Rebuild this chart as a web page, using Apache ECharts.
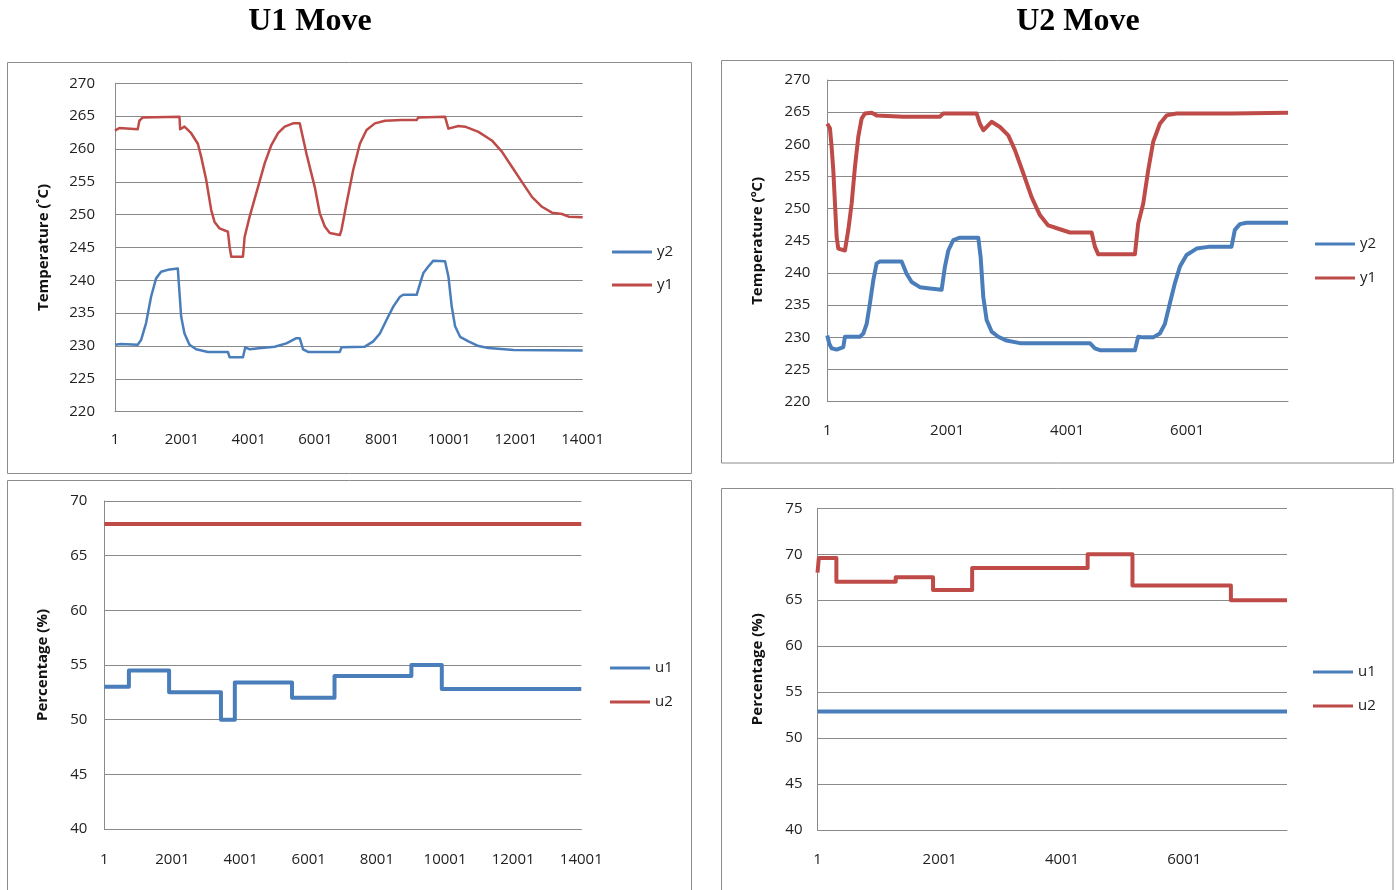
<!DOCTYPE html>
<html>
<head>
<meta charset="utf-8">
<title>U1 / U2 Move</title>
<script src="https://cdn.jsdelivr.net/npm/echarts@6/dist/echarts.min.js"></script>
<style>
  html, body { margin: 0; padding: 0; background: #ffffff; }
  #chart { width: 1396px; height: 890px; }
</style>
</head>
<body>
<div id="chart"></div>
<script>
// ---- U1 Move: temperatures ----
const y1U1Samples = [0,130,680,730,830,1930,1950,2080,2280,2480,2580,2730,2880,2980,3130,3380,3430,3480,3830,3880,4030,4280,4480,4680,4880,5080,5330,5530,5730,5980,6130,6280,6430,6730,6780,6930,7130,7330,7530,7780,8080,8580,9030,9080,9880,9980,10280,10480,10880,11280,11580,11880,12180,12480,12780,13080,13380,13580,14000];
const y1U1Values = [262.8,263.2,263.0,264.3,264.8,264.9,263.0,263.4,262.4,260.8,258.8,255.3,250.7,248.9,247.9,247.4,245.1,243.6,243.6,246.6,249.7,254.2,257.8,260.6,262.4,263.4,263.9,263.9,259.3,254.2,250.2,248.2,247.2,246.9,247.7,251.7,256.8,260.8,262.9,263.9,264.3,264.4,264.4,264.8,264.9,263.1,263.5,263.4,262.6,261.3,259.6,257.3,255.0,252.7,251.2,250.3,250.1,249.7,249.6];

const y2U1Samples = [0,180,680,780,930,1080,1230,1380,1580,1880,1930,1980,2080,2230,2430,2780,3380,3430,3830,3900,4030,4380,4780,5130,5430,5530,5630,5780,6730,6780,7480,7730,7930,8130,8330,8530,8630,9030,9130,9230,9380,9530,9880,9980,10080,10180,10330,10580,10880,11180,11930,11980,14000];
const y2U1Values = [230.2,230.3,230.2,230.9,233.5,237.5,240.3,241.3,241.6,241.8,241.6,234.5,231.9,230.2,229.5,229.1,229.1,228.3,228.3,229.8,229.5,229.7,229.9,230.4,231.2,231.2,229.5,229.1,229.1,229.8,229.9,230.7,231.9,234.0,236.0,237.5,237.8,237.8,239.5,241.1,242.1,243.0,242.9,240.6,236.0,233.0,231.4,230.7,230.0,229.7,229.4,229.3,229.3];

// ---- U2 Move: temperatures ----
const y1U2Samples = [0,44,72,100,128,156,183,294,350,406,461,517,572,628,739,822,1267,1878,1933,2489,2544,2600,2656,2739,2878,3017,3128,3267,3406,3544,3683,3878,4044,4406,4461,4517,5128,5183,5267,5350,5433,5544,5656,5822,6739,6767,7680];
const y1U2Values = [263.2,262.5,259.6,256.0,250.8,245.6,243.8,243.5,246.7,250.8,256.5,261.2,264.0,264.8,264.9,264.5,264.3,264.3,264.8,264.8,263.2,262.2,262.7,263.5,262.7,261.4,259.1,255.5,251.8,249.0,247.4,246.8,246.3,246.3,244.1,242.9,242.9,247.7,250.8,256.0,260.4,263.2,264.5,264.8,264.8,265.0,264.9];

const y2U2Samples = [0,33,72,156,267,294,544,600,656,711,767,822,878,1239,1322,1406,1544,1711,1906,1961,2017,2100,2211,2517,2556,2600,2656,2739,2850,2989,3211,4378,4461,4544,5128,5183,5211,5267,5433,5544,5628,5711,5794,5878,5989,6156,6378,6739,6794,6878,6989,7680];
const y2U2Values = [230.3,229.0,228.3,228.1,228.5,230.1,230.1,230.6,232.1,235.3,238.9,241.5,241.8,241.8,239.9,238.6,237.8,237.6,237.4,241.0,243.5,245.1,245.5,245.5,242.5,236.3,232.7,230.9,230.1,229.5,229.1,229.1,228.3,228.0,228.0,230.1,230.3,230.0,230.0,230.6,232.1,235.3,238.4,241.0,242.8,243.8,244.1,244.1,246.7,247.6,247.8,247.8];

// ---- U1 Move: manipulated inputs (step levels start at each sample) ----
const u1U1Samples = [0,722,1902,3424,3831,5510,6757,9013,9906,14000];
const u1U1Values = [53,54.5,52.5,50,53.4,52,54,55,52.8,52.8];
const u2U1Samples = [0,14000];
const u2U1Values = [67.9,67.9];

// ---- U2 Move: manipulated inputs ----
const u1U2Samples = [0,7680];
const u1U2Values = [52.9,52.9];
const u2U2Samples = [0,22,309,1279,1890,2530,4419,5152,6762,7680];
const u2U2Values = [68,69.6,67,67.5,66.1,68.5,70,66.6,65,65];

// Axis extents and tick labels
const sampleMaxU1 = 14000;
const sampleMaxU2 = 7680;
const sampleTickStep = 2000;
const tempRange = [220, 270];
const pctRangeU1 = [40, 70];
const pctRangeU2 = [40, 75];
const titles = ['U1 Move', 'U2 Move'];

const BLUE = '#4a7ebb';
const RED = '#be4b48';
const GRID_GRAY = '#8a8a8a';
const LABEL_FONT = '"Open Sans", "Noto Sans", sans-serif';

function pairs(xs, ys) { return xs.map((x, i) => [x, ys[i]]); }

function xAxis(gridIndex, max, margin) {
  return {
    type: 'value', gridIndex, min: 0, max, interval: sampleTickStep,
    axisLine: { show: true, lineStyle: { color: GRID_GRAY, width: 1 } },
    axisTick: { show: false },
    splitLine: { show: false },
    axisLabel: {
      margin, color: '#222', fontSize: 15, fontFamily: LABEL_FONT,
      formatter: v => String(v + 1),
      showMaxLabel: max % sampleTickStep === 0
    }
  };
}

function yAxis(gridIndex, range, name, nameGap, margin) {
  return {
    type: 'value', gridIndex, min: range[0], max: range[1], interval: 5,
    name, nameLocation: 'middle', nameGap, nameRotate: 90,
    nameTextStyle: { fontSize: 15, fontWeight: 'bold', color: '#111', fontFamily: LABEL_FONT },
    axisLine: { show: true, lineStyle: { color: GRID_GRAY, width: 1 } },
    axisTick: { show: false },
    splitLine: { show: true, lineStyle: { color: GRID_GRAY, width: 1 } },
    axisLabel: { margin, color: '#222', fontSize: 15, fontFamily: LABEL_FONT }
  };
}

function lineSeries(name, idx, xs, ys, color, width, step) {
  return {
    name, type: 'line', xAxisIndex: idx, yAxisIndex: idx,
    data: pairs(xs, ys), step: step ? 'end' : false,
    showSymbol: false, symbol: 'none', silent: true, animation: false,
    lineStyle: { color, width, join: 'round' }, itemStyle: { color }
  };
}

function legend(names, left, top, gap) {
  return {
    orient: 'vertical', left, top, padding: 0, itemGap: gap,
    icon: 'rect', itemWidth: 40, itemHeight: 3,
    data: names,
    textStyle: { fontSize: 15, color: '#222', fontFamily: LABEL_FONT, lineHeight: 16 },
    selectedMode: false
  };
}

function frame(x, y, w, h) {
  return { type: 'rect', shape: { x, y, width: w, height: h }, silent: true, z: -1,
           style: { fill: null, stroke: '#8c8c8c', lineWidth: 1 } };
}

const chart = echarts.init(document.getElementById('chart'), null, { renderer: 'canvas' });

chart.setOption({
  backgroundColor: '#ffffff',
  animation: false,
  graphic: [
    frame(7.5, 62.5, 684, 411),
    frame(721.5, 60.5, 672, 402.5),
    frame(7.5, 480.5, 684, 420),
    frame(721.5, 488.5, 671.5, 420),
    { type: 'text', x: 310, y: 22, silent: true,
      style: { text: titles[0], font: 'bold 32px "Liberation Serif", "Times New Roman", serif', fill: '#000', align: 'center', verticalAlign: 'middle' } },
    { type: 'text', x: 1078, y: 22, silent: true,
      style: { text: titles[1], font: 'bold 32px "Liberation Serif", "Times New Roman", serif', fill: '#000', align: 'center', verticalAlign: 'middle' } }
  ],
  grid: [
    { left: 115, top: 83.3, width: 467.7, height: 328.4, outerBoundsMode: 'none', containLabel: false },
    { left: 827.3, top: 80, width: 460.7, height: 321.7, outerBoundsMode: 'none', containLabel: false },
    { left: 104.3, top: 501, width: 477, height: 328, outerBoundsMode: 'none', containLabel: false },
    { left: 817.5, top: 508.3, width: 469.5, height: 321.7, outerBoundsMode: 'none', containLabel: false }
  ],
  xAxis: [
    xAxis(0, sampleMaxU1, 21),
    xAxis(1, sampleMaxU2, 22),
    xAxis(2, sampleMaxU1, 23),
    xAxis(3, sampleMaxU2, 22)
  ],
  yAxis: [
    yAxis(0, tempRange, 'Temperature (\u02DAC)', 64, 20),
    yAxis(1, tempRange, 'Temperature (\u00BAC)', 62, 17),
    yAxis(2, pctRangeU1, 'Percentage (%)', 54, 17),
    yAxis(3, pctRangeU2, 'Percentage (%)', 52, 15)
  ],
  legend: [
    legend(['y2', 'y1'].map(n => ({ name: n })), 612, 244, 17),
    legend(['y2 ', 'y1 '].map(n => ({ name: n })), 1315, 236, 18),
    legend(['u1', 'u2'].map(n => ({ name: n })), 610, 660, 18),
    legend(['u1 ', 'u2 '].map(n => ({ name: n })), 1313, 664, 18)
  ],
  series: [
    lineSeries('y1', 0, y1U1Samples, y1U1Values, RED, 2.5, false),
    lineSeries('y2', 0, y2U1Samples, y2U1Values, BLUE, 2.5, false),
    lineSeries('y1 ', 1, y1U2Samples, y1U2Values, RED, 4, false),
    lineSeries('y2 ', 1, y2U2Samples, y2U2Values, BLUE, 4, false),
    lineSeries('u2', 2, u2U1Samples, u2U1Values, RED, 4, true),
    lineSeries('u1', 2, u1U1Samples, u1U1Values, BLUE, 4, true),
    lineSeries('u2 ', 3, u2U2Samples, u2U2Values, RED, 4, true),
    lineSeries('u1 ', 3, u1U2Samples, u1U2Values, BLUE, 4, true)
  ]
});
</script>
</body>
</html>
